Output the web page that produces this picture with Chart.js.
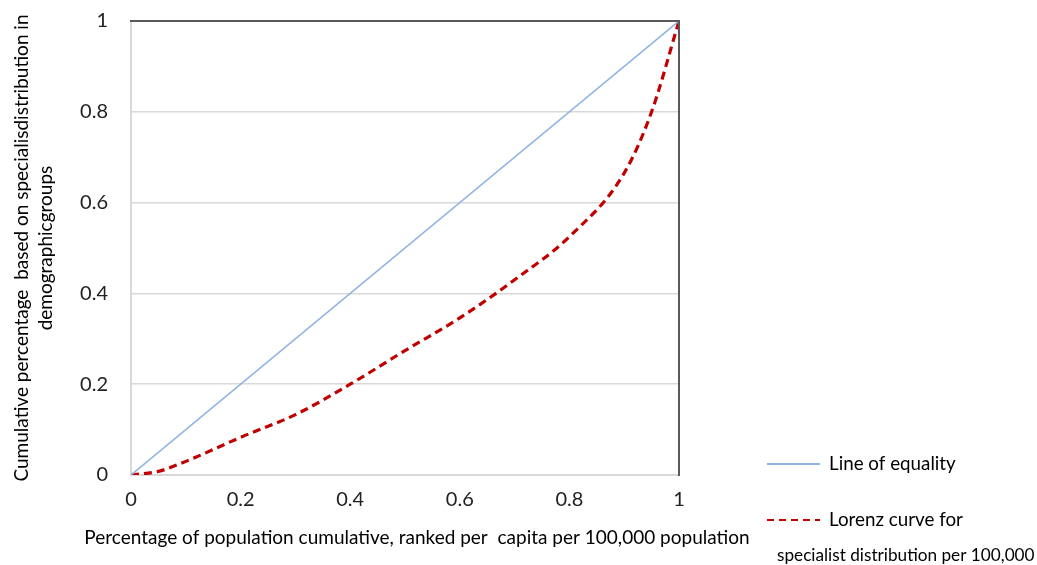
<!DOCTYPE html>
<html>
<head>
<meta charset="utf-8">
<script src="https://cdn.jsdelivr.net/npm/chart.js@4"></script>
<style>
  html, body { margin: 0; padding: 0; background: #fff; }
  #wrap { width: 1037px; height: 565px; }
</style>
</head>
<body>
<div id="wrap"><canvas id="canvas"></canvas></div>
<script>
// values
var popShare    = [0, 0.05, 0.1, 0.2, 0.3, 0.4, 0.5, 0.6, 0.7, 0.8, 0.9, 0.95, 1];
var lorenzShare = [0, 0.008, 0.03, 0.083, 0.133, 0.2, 0.274, 0.346, 0.43, 0.525, 0.665, 0.8, 1];
var equalX = [0, 1];
var equalY = [0, 1];
var tickValues = [0, 0.2, 0.4, 0.6, 0.8, 1];
var xTitle = 'Percentage of population cumulative, ranked per  capita per 100,000 population';

var FONT = "Lato, 'Open Sans', sans-serif";

function toPoints(xs, ys) {
  return xs.map(function (x, i) { return { x: x, y: ys[i] }; });
}

// top/right dark frame + the wide x title (wider than the plot)
var framePlugin = {
  id: 'frame',
  afterDatasetsDraw: function (chart) {
    var ctx = chart.ctx, a = chart.chartArea;
    ctx.save();
    ctx.strokeStyle = '#595959';
    ctx.lineWidth = 2;
    ctx.beginPath();
    ctx.moveTo(a.left - 1, a.top);
    ctx.lineTo(a.right, a.top);
    ctx.lineTo(a.right, a.bottom + 1);
    ctx.stroke();
    ctx.restore();
  },
  afterDraw: function (chart) {
    var ctx = chart.ctx, a = chart.chartArea;
    ctx.save();
    ctx.fillStyle = '#000';
    ctx.font = "19px " + FONT;
    ctx.textAlign = 'center';
    ctx.textBaseline = 'middle';
    ctx.fillText(xTitle, (a.left + a.right) / 2 + 12, a.bottom + 63);
    ctx.restore();
  }
};

// legend drawn to the right of the plot, under each other
var sideLegend = {
  id: 'sideLegend',
  afterDraw: function (chart) {
    var ctx = chart.ctx, a = chart.chartArea;
    var rows = [a.bottom - 11, a.bottom + 45];
    ctx.save();
    chart.data.datasets.forEach(function (ds, i) {
      var y = rows[i];
      ctx.strokeStyle = ds.borderColor;
      ctx.lineWidth = 2;
      ctx.setLineDash(ds.borderDash ? [7, 5] : []);
      ctx.beginPath();
      ctx.moveTo(a.right + 88, y);
      ctx.lineTo(a.right + 141, y);
      ctx.stroke();
      ctx.setLineDash([]);
      ctx.fillStyle = '#000';
      ctx.textBaseline = 'middle';
      var lines = [].concat(ds.label);
      ctx.font = "18.8px " + FONT;
      ctx.fillText(lines[0], a.right + 150, y);
      if (lines[1]) {
        ctx.font = "17.2px " + FONT;
        ctx.fillText(lines[1], a.right + 98, y + 35);
      }
    });
    ctx.restore();
  }
};

var ctx = document.getElementById('canvas').getContext('2d');
window.myLine = new Chart(ctx, {
  type: 'line',
  data: {
    datasets: [{
      label: 'Line of equality',
      data: toPoints(equalX, equalY),
      borderColor: '#8fb4e3',
      borderWidth: 1.6,
      pointRadius: 0,
      fill: false
    }, {
      label: ['Lorenz curve for', 'specialist distribution per 100,000'],
      data: toPoints(popShare, lorenzShare),
      borderColor: '#c00000',
      borderWidth: 3.2,
      borderDash: [8, 5],
      pointRadius: 0,
      cubicInterpolationMode: 'monotone',
      fill: false
    }]
  },
  options: {
    responsive: true,
    maintainAspectRatio: false,
    animation: false,
    layout: { padding: { left: 0, top: 21, right: 358, bottom: 0 } },
    plugins: {
      legend: { display: false },
      tooltip: { enabled: false }
    },
    scales: {
      x: {
        type: 'linear',
        min: 0,
        max: 1,
        afterBuildTicks: function (s) { s.ticks = tickValues.map(function (v) { return { value: v }; }); },
        afterFit: function (s) { s.height = 90; s.paddingLeft = 0; s.paddingRight = 0; },
        grid: { display: false, drawTicks: false },
        border: { display: true, color: '#d9d9d9', width: 2 },
        ticks: {
          padding: 13,
          color: '#222',
          font: { family: FONT, size: 20 },
          callback: function (v) { return String(Math.round(v * 10) / 10); }
        },
        title: { display: false }
      },
      y: {
        type: 'linear',
        min: 0,
        max: 1,
        afterBuildTicks: function (s) { s.ticks = tickValues.map(function (v) { return { value: v }; }); },
        afterFit: function (s) { s.width = 131; s.paddingTop = 0; s.paddingBottom = 0; },
        grid: { color: '#d9d9d9', lineWidth: 1.5, drawTicks: false },
        border: { display: true, color: '#d9d9d9', width: 2 },
        ticks: {
          padding: 23,
          color: '#222',
          font: { family: FONT, size: 20 },
          callback: function (v) { return String(Math.round(v * 10) / 10); }
        },
        title: {
          display: true,
          text: ['Cumulative percentage  based on specialisdistribution in', 'demographicgroups'],
          color: '#000',
          font: { family: FONT, size: 19, lineHeight: 1.25 },
          padding: { top: 10, bottom: 0 }
        }
      }
    }
  },
  plugins: [framePlugin, sideLegend]
});
</script>
</body>
</html>
